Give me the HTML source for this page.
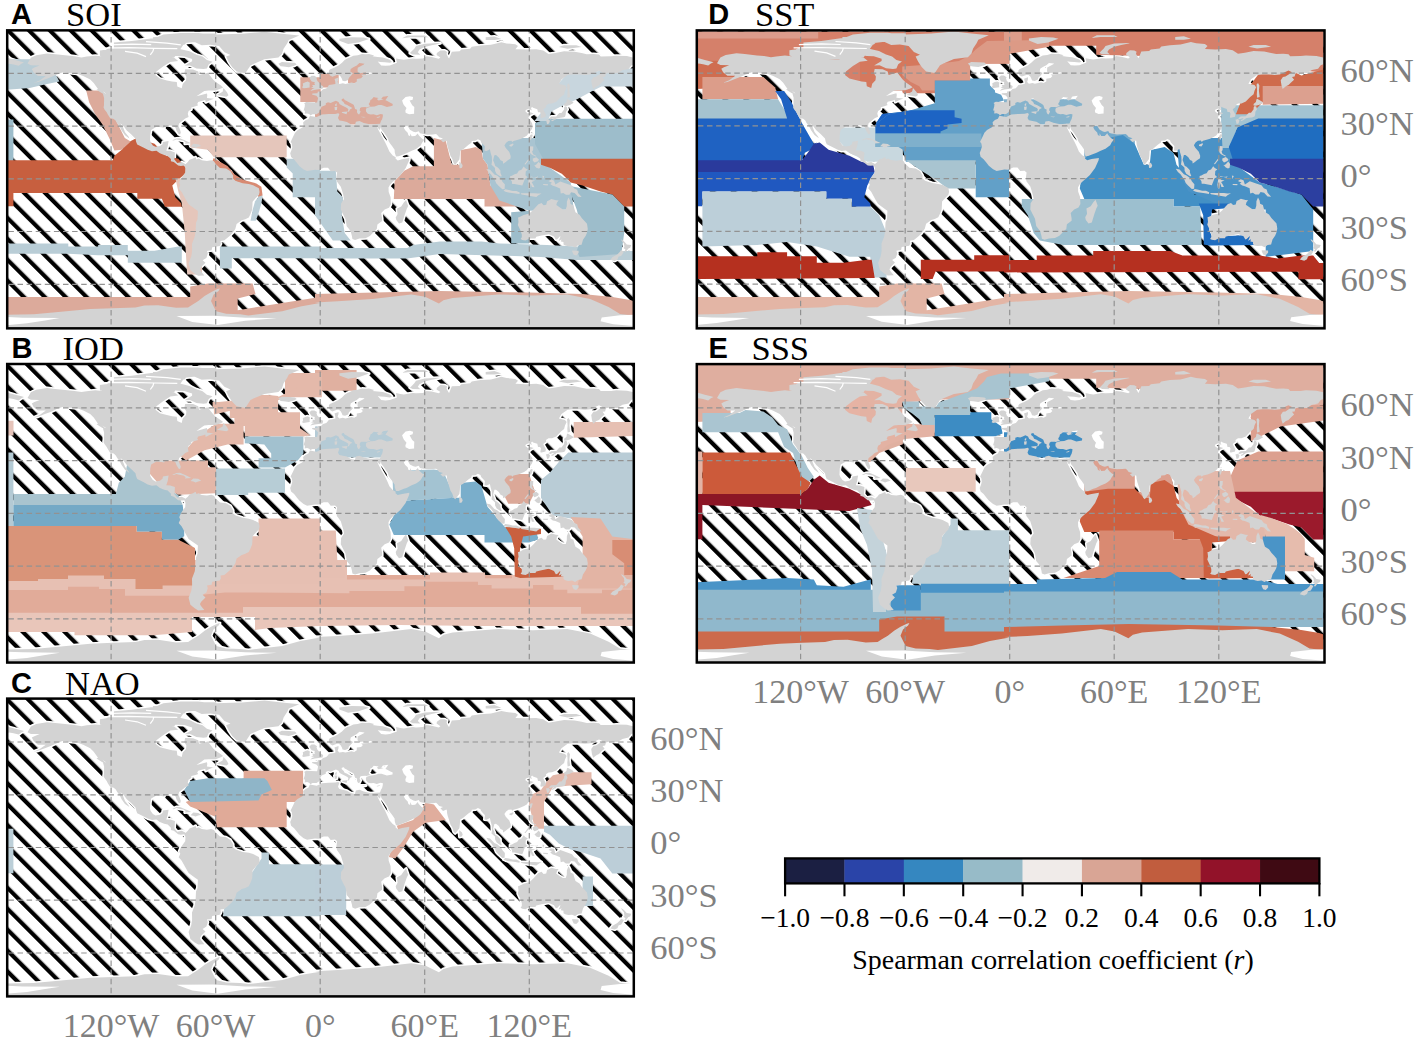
<!DOCTYPE html><html><head><meta charset="utf-8"><style>
html,body{margin:0;padding:0;background:#fff;width:1417px;height:1043px;overflow:hidden}
svg{display:block}
.lab{font-family:"Liberation Serif",serif;fill:#808080}
.ttl{font-family:"Liberation Serif",serif;fill:#000}
.pl{font-family:"Liberation Sans",sans-serif;font-weight:bold;fill:#000}
</style></head><body>
<svg width="1417" height="1043" viewBox="0 0 1417 1043">
<defs>
<pattern id="hA" patternUnits="userSpaceOnUse" width="14.778" height="14.778" patternTransform="translate(0.50 0) rotate(-45)"><rect width="14.778" height="14.778" fill="#fff"/><rect x="0" width="4.2" height="14.778" fill="#000"/></pattern>
<pattern id="hB" patternUnits="userSpaceOnUse" width="14.778" height="14.778" patternTransform="translate(-0.80 0) rotate(-45)"><rect width="14.778" height="14.778" fill="#fff"/><rect x="0" width="4.2" height="14.778" fill="#000"/></pattern>
<pattern id="hC" patternUnits="userSpaceOnUse" width="14.778" height="14.778" patternTransform="translate(-0.70 0) rotate(-45)"><rect width="14.778" height="14.778" fill="#fff"/><rect x="0" width="4.2" height="14.778" fill="#000"/></pattern>
<pattern id="hD" patternUnits="userSpaceOnUse" width="14.778" height="14.778" patternTransform="translate(0.80 0) rotate(-45)"><rect width="14.778" height="14.778" fill="#fff"/><rect x="0" width="4.2" height="14.778" fill="#000"/></pattern>
<pattern id="hE" patternUnits="userSpaceOnUse" width="14.778" height="14.778" patternTransform="translate(-0.25 0) rotate(-45)"><rect width="14.778" height="14.778" fill="#fff"/><rect x="0" width="4.2" height="14.778" fill="#000"/></pattern>
<path id="land" d="M-289.3 -113.6 L-280.5 -113.4 L-285.8 -111.3 L-288.4 -109.9 L-286.6 -106.4 L-282.3 -102.8 L-274.4 -102.8 L-280.5 -98.4 L-286.6 -95.8 L-282.3 -96.7 L-275.3 -99.3 L-268.3 -102.0 L-264.0 -104.1 L-257.9 -106.4 L-250.9 -105.8 L-243.1 -105.1 L-237.0 -102.8 L-230.0 -99.3 L-226.5 -95.8 L-222.2 -89.7 L-217.8 -87.9 L-214.3 -85.3 L-217.3 -85.1 L-216.1 -80.9 L-216.2 -73.8 L-216.6 -71.2 L-215.7 -69.4 L-213.5 -66.5 L-212.4 -64.3 L-210.1 -60.7 L-206.5 -59.8 L-204.4 -58.0 L-203.3 -55.9 L-200.4 -51.9 L-198.6 -48.3 L-195.2 -43.6 L-190.8 -40.4 L-191.7 -42.2 L-195.2 -46.6 L-196.9 -51.0 L-199.9 -55.6 L-196.6 -52.7 L-193.4 -48.3 L-189.1 -44.5 L-184.7 -40.1 L-184.0 -36.9 L-183.0 -34.3 L-176.9 -31.3 L-172.5 -29.0 L-168.2 -27.6 L-163.8 -28.1 L-160.3 -25.5 L-156.0 -23.7 L-152.5 -22.9 L-149.3 -19.7 L-149.3 -17.6 L-146.4 -16.7 L-142.0 -13.2 L-139.4 -12.8 L-135.9 -13.2 L-134.7 -14.6 L-135.0 -14.9 L-138.5 -16.7 L-142.9 -15.8 L-145.8 -19.3 L-145.5 -22.0 L-145.3 -26.4 L-149.9 -28.0 L-153.9 -28.1 L-152.5 -32.5 L-151.6 -37.8 L-157.3 -36.9 L-157.7 -34.6 L-160.3 -32.7 L-164.7 -32.0 L-167.3 -33.4 L-169.5 -36.6 L-170.2 -38.7 L-169.9 -44.8 L-169.0 -48.9 L-163.8 -52.0 L-158.6 -51.5 L-156.0 -51.0 L-155.1 -53.3 L-149.9 -53.4 L-146.7 -52.7 L-144.6 -51.0 L-143.8 -48.3 L-141.5 -44.7 L-140.1 -44.3 L-139.4 -46.6 L-140.3 -49.2 L-141.7 -52.7 L-141.1 -55.4 L-137.7 -58.0 L-135.0 -60.3 L-131.6 -61.9 L-132.4 -65.0 L-131.6 -67.7 L-128.9 -69.4 L-128.9 -71.4 L-124.6 -72.6 L-122.0 -73.5 L-123.0 -74.9 L-122.0 -76.8 L-116.7 -78.2 L-115.0 -78.8 L-114.5 -76.5 L-110.8 -78.4 L-104.5 -80.9 L-106.3 -80.0 L-113.3 -80.9 L-112.9 -83.5 L-113.3 -85.3 L-123.7 -82.5 L-118.5 -86.1 L-115.9 -87.9 L-111.5 -88.3 L-104.5 -88.3 L-99.3 -90.2 L-97.1 -91.4 L-99.3 -93.2 L-104.5 -96.7 L-107.2 -99.3 L-112.4 -106.0 L-113.3 -105.8 L-121.1 -103.7 L-122.0 -107.2 L-127.2 -109.3 L-135.0 -109.5 L-135.9 -105.5 L-133.8 -102.0 L-134.2 -98.4 L-137.5 -94.9 L-138.5 -90.5 L-142.9 -92.3 L-143.4 -96.7 L-148.1 -97.2 L-153.3 -98.4 L-160.3 -100.2 L-164.7 -103.7 L-163.8 -107.2 L-156.8 -112.5 L-149.9 -116.9 L-142.0 -117.8 L-148.1 -122.7 L-156.8 -121.3 L-164.7 -126.6 L-165.5 -120.1 L-170.8 -119.2 L-181.2 -119.5 L-191.7 -119.5 L-203.9 -121.0 L-216.1 -122.2 L-224.8 -123.1 L-233.5 -122.2 L-238.7 -121.3 L-245.7 -122.5 L-252.7 -123.2 L-264.9 -124.5 L-273.2 -125.3 L-284.0 -123.6 L-289.3 -121.1 L-292.7 -115.3Z M-118.5 -133.6 L-109.8 -134.1 L-101.1 -132.7 L-95.8 -126.6 L-89.7 -123.9 L-94.1 -122.2 L-91.5 -116.9 L-88.0 -111.6 L-83.6 -107.2 L-74.9 -105.5 L-69.7 -113.4 L-66.2 -115.1 L-55.8 -119.5 L-41.8 -121.3 L-38.3 -124.8 L-36.6 -130.1 L-33.1 -135.4 L-31.4 -138.9 L-20.9 -143.3 L-38.3 -145.0 L-55.8 -147.0 L-78.4 -145.0 L-104.5 -144.2 L-115.0 -141.5 L-127.2 -137.5Z M-149.9 -129.2 L-156.0 -124.8 L-149.9 -123.6 L-142.9 -122.7 L-135.9 -122.4 L-128.1 -119.9 L-128.1 -117.6 L-135.6 -113.2 L-130.2 -113.4 L-123.7 -110.4 L-116.7 -109.7 L-113.3 -110.2 L-111.5 -114.3 L-107.7 -117.1 L-113.3 -118.7 L-117.6 -122.2 L-123.7 -124.1 L-130.7 -127.5 L-139.4 -129.6Z M-205.6 -122.2 L-196.9 -120.4 L-184.7 -121.7 L-176.0 -123.9 L-183.0 -128.3 L-196.9 -128.7 L-206.5 -125.7Z M-217.8 -125.7 L-209.1 -125.7 L-202.1 -129.2 L-210.8 -131.0 L-217.8 -126.9Z M-156.8 -135.4 L-135.9 -134.0 L-130.7 -138.9 L-118.5 -141.5 L-108.0 -144.2 L-122.0 -145.9 L-139.4 -145.9 L-156.8 -144.2 L-165.5 -140.6Z M-160.3 -131.0 L-139.4 -131.0 L-139.4 -134.5 L-156.8 -134.5 L-167.3 -132.7Z M-176.0 -126.6 L-169.0 -123.9 L-160.3 -126.6 L-162.1 -130.1 L-169.0 -129.7 L-176.0 -130.1Z M-200.4 -131.0 L-184.7 -131.8 L-170.8 -132.7 L-174.2 -133.6 L-181.2 -134.0 L-188.2 -134.5 L-203.9 -133.6Z M-167.3 -137.1 L-156.8 -138.9 L-149.9 -142.9 L-167.3 -141.5Z M-39.6 -112.5 L-36.6 -112.2 L-31.4 -111.5 L-26.1 -113.0 L-23.5 -114.3 L-25.3 -116.0 L-31.4 -116.4 L-38.3 -116.7 L-41.8 -115.1Z M-135.9 -13.2 L-135.7 -12.8 L-134.7 -10.5 L-135.0 -6.2 L-137.7 -2.6 L-139.4 0.0 L-141.0 3.9 L-139.9 6.2 L-141.5 9.7 L-138.5 13.2 L-134.2 21.1 L-131.6 25.5 L-125.5 29.9 L-122.3 32.2 L-122.7 40.4 L-124.2 44.0 L-124.6 52.7 L-125.5 58.0 L-128.2 65.0 L-128.1 72.1 L-128.9 77.4 L-131.6 84.4 L-129.8 91.4 L-125.5 94.9 L-122.0 97.0 L-115.9 96.7 L-119.4 92.3 L-120.2 90.7 L-119.0 88.3 L-114.7 84.0 L-117.6 81.4 L-113.8 79.1 L-112.4 74.7 L-113.3 72.1 L-108.6 71.4 L-108.0 68.4 L-100.5 67.2 L-99.3 65.0 L-99.7 62.1 L-95.8 61.5 L-93.0 59.2 L-90.6 57.1 L-88.0 54.5 L-84.9 50.1 L-83.6 45.2 L-78.4 41.5 L-74.9 40.4 L-71.4 38.7 L-69.7 35.2 L-68.0 30.8 L-67.6 22.9 L-64.5 19.3 L-61.3 16.2 L-60.6 13.2 L-61.3 9.5 L-67.1 6.5 L-71.4 5.3 L-77.5 4.4 L-84.5 2.1 L-87.1 0.0 L-87.1 -3.2 L-89.7 -7.6 L-94.1 -10.2 L-100.2 -10.9 L-104.5 -14.9 L-106.3 -17.6 L-108.9 -18.6 L-113.3 -17.8 L-118.5 -18.5 L-121.6 -20.2 L-123.7 -19.3 L-124.6 -21.6 L-127.2 -20.2 L-130.7 -19.0 L-132.4 -16.7 L-134.7 -14.6Z M-11.8 -59.8 L-14.8 -58.5 L-17.1 -56.3 L-16.7 -53.6 L-17.4 -51.5 L-22.7 -48.5 L-25.3 -45.9 L-27.0 -42.2 L-29.6 -36.9 L-28.4 -35.2 L-27.9 -31.6 L-28.8 -28.5 L-30.0 -25.5 L-29.1 -21.8 L-26.1 -19.3 L-23.0 -15.5 L-20.9 -12.8 L-16.6 -9.3 L-13.1 -7.7 L-5.2 -9.0 L-1.7 -8.8 L3.5 -11.1 L7.8 -11.1 L10.5 -7.6 L14.8 -7.9 L16.9 -6.2 L16.2 -0.9 L16.7 2.6 L20.6 7.9 L21.4 10.5 L23.0 15.8 L23.9 20.2 L20.9 24.6 L20.6 30.8 L22.7 35.2 L25.3 40.1 L26.5 47.5 L28.8 50.3 L30.5 52.7 L31.7 57.1 L32.2 60.1 L34.9 61.2 L39.2 59.8 L45.3 59.4 L49.7 57.1 L54.0 52.7 L56.6 50.3 L57.2 45.7 L61.9 42.2 L61.9 39.6 L61.0 34.3 L64.5 30.8 L68.8 29.0 L70.7 25.5 L70.4 18.5 L68.5 13.2 L68.3 8.8 L69.7 6.2 L72.3 3.3 L74.9 1.1 L80.2 -3.5 L85.4 -10.5 L88.9 -18.3 L89.2 -20.7 L81.9 -19.5 L77.5 -18.3 L75.3 -20.2 L75.5 -21.6 L72.5 -23.4 L69.2 -27.2 L67.3 -31.6 L64.8 -36.9 L61.9 -42.0 L58.5 -48.3 L56.6 -52.6 L58.4 -54.7 L55.8 -54.8 L50.5 -54.3 L43.6 -55.9 L39.2 -57.7 L35.7 -57.0 L34.7 -53.6 L30.5 -54.5 L26.7 -56.8 L22.7 -57.7 L19.2 -58.4 L17.8 -60.7 L19.2 -64.7 L17.9 -65.6 L15.0 -64.9 L8.7 -64.7 L1.7 -64.2 L-3.5 -61.7 L-10.3 -62.9Z M83.6 23.7 L81.0 27.6 L76.7 29.9 L77.4 35.2 L75.5 38.7 L76.1 41.3 L78.8 44.8 L82.1 43.8 L84.5 36.0 L86.6 29.9 L88.0 27.2 L85.9 21.1Z M-7.7 -64.5 L-3.7 -64.5 L-1.4 -66.1 L-0.5 -67.7 L0.0 -69.4 L1.4 -72.1 L5.6 -73.7 L5.6 -75.6 L7.8 -76.5 L10.5 -75.8 L13.1 -77.0 L15.7 -78.1 L18.3 -76.8 L19.5 -74.5 L22.3 -73.0 L24.9 -71.7 L27.2 -70.5 L28.2 -69.4 L27.4 -66.8 L28.8 -67.3 L29.8 -69.4 L32.2 -70.7 L28.1 -73.0 L27.0 -73.7 L24.4 -74.7 L23.5 -76.6 L21.4 -78.4 L21.6 -79.8 L23.7 -80.3 L24.4 -78.9 L26.5 -77.9 L28.8 -76.5 L32.2 -74.7 L33.6 -73.7 L34.9 -69.8 L36.9 -69.1 L36.8 -66.6 L37.8 -64.7 L38.9 -64.2 L39.7 -65.6 L40.4 -67.2 L39.4 -68.4 L39.9 -70.7 L41.3 -71.6 L45.3 -71.7 L46.0 -71.4 L50.4 -72.6 L48.8 -73.8 L48.6 -75.1 L49.8 -76.8 L50.2 -78.9 L51.6 -79.6 L53.5 -81.7 L55.2 -81.4 L58.5 -80.9 L56.6 -79.8 L58.4 -78.2 L61.9 -79.1 L63.6 -79.6 L61.0 -79.8 L62.7 -82.1 L68.1 -82.8 L65.2 -78.6 L66.6 -78.1 L69.7 -76.3 L72.5 -74.9 L72.3 -73.0 L66.7 -71.9 L61.3 -73.8 L58.4 -73.8 L54.5 -72.4 L50.5 -72.1 L46.4 -70.8 L45.7 -69.4 L45.8 -67.2 L47.6 -65.0 L50.5 -64.3 L53.3 -64.5 L56.6 -63.5 L60.5 -64.7 L62.7 -64.3 L62.6 -62.4 L61.9 -59.6 L60.8 -57.7 L59.8 -55.0 L56.3 -54.8 L56.8 -52.6 L58.5 -49.8 L59.8 -48.9 L60.6 -51.9 L61.2 -49.4 L63.8 -46.1 L65.2 -44.0 L67.8 -40.1 L68.3 -37.8 L69.7 -35.5 L72.0 -32.5 L74.4 -29.0 L74.6 -26.0 L75.8 -22.3 L78.4 -22.5 L83.6 -24.6 L86.3 -25.5 L91.0 -27.8 L95.8 -29.9 L98.1 -31.5 L100.5 -33.4 L101.9 -36.0 L104.2 -39.2 L102.5 -39.6 L100.2 -41.7 L98.3 -43.8 L97.6 -45.4 L95.0 -42.7 L91.5 -42.5 L89.9 -45.4 L89.9 -42.5 L88.2 -43.6 L87.5 -46.1 L85.0 -48.5 L83.6 -51.0 L84.5 -52.7 L87.6 -52.6 L89.7 -49.0 L93.2 -47.1 L95.3 -46.6 L98.5 -47.6 L99.8 -45.5 L101.9 -45.0 L107.2 -44.1 L112.4 -44.3 L115.9 -44.7 L117.3 -43.6 L119.0 -41.5 L122.8 -40.4 L120.2 -39.2 L122.8 -36.6 L126.3 -38.1 L126.7 -36.9 L126.9 -34.3 L127.6 -31.3 L128.9 -27.4 L130.3 -22.7 L132.1 -19.9 L133.5 -15.6 L135.0 -14.2 L136.3 -15.6 L138.2 -18.1 L139.2 -19.3 L139.7 -23.7 L139.9 -27.8 L143.4 -29.9 L148.1 -33.9 L151.2 -36.0 L151.6 -37.8 L155.1 -38.1 L157.7 -39.6 L160.3 -38.3 L161.0 -36.4 L162.9 -34.3 L164.7 -32.5 L164.3 -28.1 L166.4 -27.8 L169.7 -29.5 L170.4 -26.0 L171.6 -22.0 L171.8 -17.6 L171.3 -14.1 L173.6 -12.1 L174.8 -10.9 L174.9 -7.9 L176.5 -4.9 L180.3 -2.3 L181.6 -2.5 L180.2 -6.0 L180.2 -8.4 L178.1 -10.7 L176.5 -12.0 L175.1 -12.7 L173.9 -16.2 L172.9 -18.5 L174.2 -23.6 L175.8 -23.7 L178.6 -21.4 L180.3 -18.6 L182.6 -17.6 L183.0 -15.1 L185.2 -16.5 L187.3 -18.3 L190.3 -20.4 L190.5 -22.9 L189.1 -26.9 L185.6 -30.8 L184.2 -33.4 L185.9 -36.0 L188.2 -37.8 L191.2 -38.0 L192.0 -36.7 L193.4 -37.8 L197.8 -39.0 L200.4 -39.9 L203.9 -41.5 L206.5 -43.1 L208.2 -45.4 L210.0 -47.5 L211.7 -49.9 L212.6 -52.4 L210.8 -53.3 L212.4 -54.3 L211.4 -56.3 L209.8 -58.7 L208.1 -61.5 L210.7 -64.0 L213.5 -65.4 L210.3 -66.5 L207.7 -65.4 L207.0 -65.9 L205.1 -67.5 L205.6 -68.9 L208.4 -70.1 L211.7 -68.4 L210.8 -70.7 L211.9 -71.9 L212.9 -71.0 L217.1 -69.6 L217.8 -66.5 L219.9 -66.5 L220.8 -64.9 L220.1 -61.2 L221.3 -60.8 L225.3 -61.9 L225.7 -64.2 L224.1 -67.2 L223.0 -69.4 L226.0 -71.7 L225.8 -73.3 L228.3 -75.1 L231.8 -75.2 L236.1 -77.0 L240.5 -81.7 L243.9 -84.4 L244.8 -87.9 L246.4 -91.4 L244.8 -93.5 L238.7 -94.9 L241.3 -99.3 L247.4 -103.7 L252.7 -104.2 L258.8 -104.2 L264.9 -103.7 L270.1 -104.2 L278.8 -108.1 L282.3 -106.4 L279.7 -104.6 L275.8 -102.0 L273.2 -101.6 L271.0 -98.4 L271.8 -93.2 L273.0 -89.7 L276.2 -92.3 L278.8 -93.5 L281.9 -96.7 L284.4 -98.8 L282.3 -101.6 L284.9 -102.0 L285.8 -105.1 L289.3 -106.0 L297.1 -105.5 L302.3 -108.6 L308.4 -109.9 L311.0 -113.4 L313.6 -114.3 L313.6 -121.1 L306.7 -122.7 L296.2 -123.1 L291.0 -122.5 L280.5 -122.4 L278.8 -124.3 L273.6 -124.8 L266.6 -124.6 L261.4 -125.7 L254.4 -127.1 L243.9 -127.5 L235.2 -125.9 L228.3 -124.8 L223.0 -128.3 L216.1 -129.6 L205.6 -129.2 L195.2 -129.6 L197.8 -132.7 L195.2 -134.5 L186.4 -135.4 L181.2 -136.6 L170.8 -134.0 L160.3 -133.3 L151.6 -132.0 L149.9 -130.1 L141.1 -129.2 L139.4 -127.5 L131.6 -127.1 L128.9 -120.4 L128.1 -121.3 L126.3 -124.8 L126.9 -126.9 L124.6 -128.2 L120.2 -128.3 L116.7 -125.7 L116.4 -123.9 L120.2 -121.3 L118.5 -120.1 L111.5 -121.8 L106.3 -122.5 L102.8 -120.4 L95.8 -120.1 L92.4 -120.4 L83.6 -119.0 L80.2 -119.5 L75.8 -120.4 L76.7 -116.0 L69.7 -113.4 L65.3 -113.0 L61.0 -113.4 L57.5 -117.3 L60.1 -116.9 L64.5 -116.6 L69.7 -116.0 L71.8 -116.9 L69.7 -119.0 L62.7 -121.3 L57.5 -121.8 L52.3 -122.5 L54.0 -123.4 L48.8 -124.8 L45.3 -124.6 L41.8 -124.8 L37.5 -123.6 L33.1 -123.1 L29.6 -121.3 L27.0 -120.4 L24.4 -118.7 L21.8 -116.0 L18.3 -113.4 L13.9 -111.1 L9.6 -109.3 L8.7 -108.1 L8.7 -105.5 L9.8 -103.4 L12.2 -102.0 L16.6 -103.7 L18.8 -103.7 L20.6 -102.0 L21.8 -99.7 L22.3 -98.1 L24.9 -97.6 L27.9 -98.8 L28.8 -101.1 L31.4 -103.7 L32.8 -105.5 L30.0 -107.2 L30.5 -109.9 L33.1 -111.6 L36.6 -113.4 L39.2 -115.7 L44.3 -115.1 L43.6 -114.3 L37.5 -111.1 L37.3 -107.2 L39.2 -105.5 L45.3 -106.2 L50.5 -106.4 L52.3 -105.5 L48.8 -104.6 L40.9 -104.1 L42.7 -102.5 L40.9 -100.6 L36.6 -99.9 L36.6 -97.2 L34.0 -95.6 L31.4 -96.3 L25.3 -94.9 L22.7 -95.6 L19.2 -94.9 L17.4 -96.7 L18.3 -99.3 L18.3 -101.4 L14.3 -99.9 L15.0 -97.6 L15.2 -94.8 L12.2 -94.2 L8.7 -93.7 L7.8 -92.3 L6.1 -90.4 L2.8 -89.5 L0.3 -87.0 L-2.3 -87.4 L-2.8 -85.6 L-7.8 -85.4 L-8.2 -84.4 L-3.8 -83.0 L-2.1 -80.9 L-3.1 -76.3 L-9.6 -76.5 L-13.9 -76.8 L-16.2 -75.6 L-15.3 -74.7 L-15.5 -72.1 L-16.6 -68.2 L-15.3 -68.0 L-15.5 -65.0 L-13.1 -65.4 L-11.0 -64.7 L-9.8 -63.3Z M-313.6 -114.3 L-311.0 -115.1 L-306.7 -114.3 L-301.5 -113.0 L-298.8 -115.1 L-296.2 -116.4 L-299.7 -117.4 L-304.9 -118.7 L-313.6 -121.1Z M89.7 -125.7 L92.4 -124.3 L100.2 -124.1 L97.6 -126.6 L99.3 -129.2 L104.5 -131.8 L111.5 -133.6 L120.2 -135.4 L118.5 -135.7 L104.5 -135.0 L95.8 -132.7 L94.1 -130.1 L91.5 -127.5Z M165.5 -138.9 L174.2 -138.9 L181.2 -139.8 L174.2 -142.4 L165.5 -141.5Z M81.9 -140.6 L90.6 -141.5 L108.0 -141.5 L104.5 -143.3 L87.1 -143.3Z M19.2 -138.0 L27.9 -134.7 L38.3 -136.2 L48.8 -139.8 L43.6 -141.2 L31.4 -141.5 L19.2 -140.1Z M238.7 -131.8 L247.4 -130.1 L261.4 -131.8 L256.1 -133.6 L243.9 -133.6Z M247.4 -80.9 L250.0 -81.7 L249.2 -87.9 L249.7 -93.2 L248.3 -95.5 L246.9 -94.1 L247.4 -87.9 L247.1 -84.4Z M243.9 -73.0 L246.2 -72.8 L249.7 -73.8 L253.5 -76.1 L251.8 -77.4 L247.4 -79.8 L246.7 -79.1 L246.2 -76.5 L243.9 -74.7Z M228.3 -60.3 L230.0 -59.4 L232.6 -60.3 L235.2 -59.1 L236.1 -60.3 L238.7 -60.8 L242.2 -61.2 L243.6 -61.5 L244.8 -62.1 L245.5 -64.2 L245.7 -66.8 L247.3 -69.4 L246.6 -72.1 L244.8 -72.6 L243.9 -71.2 L243.9 -69.4 L241.3 -65.9 L239.2 -65.9 L237.9 -64.5 L236.1 -62.4 L230.9 -62.2 L228.1 -59.8Z M226.2 -57.5 L226.9 -54.5 L228.8 -55.2 L229.8 -58.0 L228.3 -59.6 L225.7 -58.9Z M231.8 -57.5 L234.0 -58.5 L234.7 -60.1 L230.9 -58.4Z M209.4 -42.5 L209.3 -40.4 L210.5 -38.5 L211.5 -40.4 L212.6 -44.0 L210.8 -44.3Z M189.4 -32.5 L191.7 -32.2 L193.4 -34.5 L192.7 -35.3 L189.2 -33.8Z M209.1 -28.1 L210.1 -25.5 L211.7 -24.1 L215.7 -22.2 L216.1 -22.9 L212.9 -24.6 L211.9 -27.2 L212.9 -28.5 L213.1 -32.3 L210.0 -32.5Z M214.3 -13.2 L216.1 -11.1 L218.3 -10.2 L219.9 -10.9 L220.4 -14.6 L218.5 -17.1 L216.1 -14.4 L212.6 -12.3Z M212.6 -18.1 L214.3 -16.2 L217.8 -17.6 L218.7 -19.3 L216.1 -21.6 L212.6 -20.2Z M205.3 -14.4 L208.6 -18.5 L208.2 -19.9 L204.2 -14.6Z M189.9 0.0 L191.7 2.6 L192.0 5.1 L194.3 5.1 L196.9 5.6 L199.5 6.2 L202.1 6.7 L203.0 4.4 L203.9 2.1 L204.7 0.0 L207.4 -1.6 L205.3 -3.5 L205.6 -7.6 L207.7 -9.1 L205.1 -10.5 L203.5 -12.3 L201.3 -9.1 L198.6 -8.1 L196.9 -5.4 L194.3 -4.6 L191.7 -3.0 L189.9 -2.6Z M168.2 -6.7 L170.8 -4.4 L172.5 -1.8 L174.6 0.9 L176.0 4.4 L178.3 7.0 L182.1 10.4 L184.4 10.2 L184.7 5.6 L182.1 2.6 L180.9 0.0 L176.9 -3.2 L174.2 -4.4 L169.9 -9.1 L166.1 -9.8Z M185.4 13.0 L188.2 13.7 L191.7 14.1 L195.2 14.6 L199.3 15.3 L199.5 13.7 L196.2 12.1 L192.5 12.1 L188.7 11.1 L185.1 10.5 L183.3 12.0Z M201.3 15.6 L207.4 16.7 L216.1 18.1 L217.8 16.7 L221.3 14.6 L217.8 14.8 L214.3 14.4 L207.4 14.4 L200.4 14.4Z M208.2 9.7 L209.8 9.8 L210.5 4.7 L211.7 8.3 L214.3 8.4 L212.9 5.6 L211.4 3.3 L214.9 1.6 L211.7 1.4 L209.4 -0.9 L210.8 -2.3 L216.9 -0.9 L218.0 -2.8 L216.6 -1.8 L210.5 -1.6 L209.1 -1.2 L208.4 1.1 L207.7 6.2Z M223.0 6.3 L227.4 6.7 L227.9 5.4 L223.0 5.3Z M222.7 0.0 L224.1 1.1 L223.0 0.0 L224.1 -2.6 L222.2 -3.0Z M229.1 2.8 L231.8 4.0 L230.0 5.1 L232.6 7.0 L235.2 7.7 L239.9 9.7 L240.5 14.8 L243.1 14.1 L245.7 16.0 L249.2 16.0 L250.9 13.5 L254.4 14.1 L257.9 17.9 L261.4 18.1 L257.9 14.1 L257.0 10.9 L254.1 9.7 L251.8 6.7 L245.7 4.6 L240.1 2.6 L235.2 5.8 L233.8 1.6 L230.9 0.7 L228.3 2.5Z M198.3 43.1 L197.6 46.2 L199.7 50.5 L200.4 51.9 L201.6 55.6 L201.6 58.5 L200.4 60.3 L202.1 61.2 L205.4 61.7 L209.1 59.6 L215.2 59.6 L216.1 58.0 L221.3 56.8 L228.6 55.4 L233.8 57.7 L235.6 60.8 L237.0 60.5 L240.1 57.3 L239.9 58.9 L238.4 62.1 L239.9 61.5 L241.3 60.7 L240.6 62.8 L243.3 63.3 L243.3 65.7 L245.0 66.8 L248.0 67.5 L251.8 67.2 L254.9 68.6 L257.9 66.5 L261.4 65.9 L262.8 61.0 L265.4 57.1 L266.6 54.5 L267.6 50.1 L266.8 45.0 L264.3 42.2 L261.7 39.4 L259.3 35.9 L255.3 33.4 L254.4 30.8 L253.2 26.4 L250.4 25.1 L249.9 21.8 L248.3 18.8 L246.7 22.7 L246.6 27.2 L245.5 30.6 L242.7 30.6 L239.4 28.5 L236.1 26.2 L236.8 23.7 L238.4 21.6 L235.8 21.4 L231.1 20.2 L229.1 21.4 L226.9 22.5 L226.0 26.0 L223.4 26.4 L221.3 24.3 L218.2 25.5 L215.4 28.5 L212.9 31.3 L209.1 34.8 L203.5 36.2 L198.8 38.5 L197.8 38.7Z M252.1 73.0 L253.5 75.9 L256.1 76.6 L258.4 74.2 L258.4 71.9 L252.0 71.6Z M301.5 62.1 L303.7 64.7 L304.2 68.2 L303.2 69.3 L305.3 70.7 L304.2 72.6 L305.5 73.1 L308.2 69.6 L310.0 68.9 L311.0 66.3 L306.5 65.6 L305.8 64.7 L303.7 62.4 L300.9 60.5Z M299.7 73.0 L297.1 75.6 L292.4 78.2 L290.1 80.9 L294.5 82.1 L297.3 80.7 L298.3 77.9 L301.1 77.0 L302.0 75.6 L303.7 72.6 L300.8 71.2Z M139.1 -13.2 L139.4 -10.5 L141.5 -10.9 L142.5 -12.8 L141.8 -14.9 L139.1 -17.2Z M-9.9 -87.9 L-5.2 -89.0 L2.4 -90.0 L3.0 -92.6 L0.5 -93.9 L-0.5 -95.6 L-2.8 -97.7 L-3.7 -100.2 L-3.1 -101.3 L-5.8 -103.0 L-8.7 -103.0 L-10.8 -101.1 L-9.8 -99.0 L-8.5 -97.2 L-5.2 -96.5 L-5.9 -95.5 L-5.2 -93.7 L-8.0 -93.7 L-7.1 -92.1 L-9.2 -91.1 L-5.6 -90.4 L-7.8 -89.8Z M-10.5 -91.4 L-10.6 -94.1 L-10.3 -96.0 L-12.5 -97.2 L-14.8 -96.5 L-17.4 -95.3 L-17.1 -93.2 L-18.1 -91.2 L-16.6 -90.5 L-13.9 -90.9Z M-146.4 -38.3 L-143.8 -39.4 L-141.1 -38.7 L-136.8 -38.0 L-134.5 -36.2 L-135.4 -35.0 L-129.1 -35.5 L-131.9 -36.9 L-135.0 -38.3 L-140.3 -40.6 L-143.8 -40.4 L-148.1 -38.5Z M-126.9 -31.8 L-124.6 -30.9 L-122.0 -32.0 L-119.0 -32.7 L-122.0 -34.6 L-126.9 -35.0 L-129.6 -32.3Z M-97.2 -82.6 L-93.7 -82.1 L-91.7 -83.5 L-93.2 -86.5 L-96.7 -90.7 L-97.6 -87.0 L-103.3 -83.7Z M-223.7 -89.1 L-217.8 -85.3 L-214.9 -85.1 L-217.8 -87.9 L-222.2 -89.7Z M21.8 -66.1 L26.3 -64.5 L27.2 -67.3 L21.6 -66.8Z M14.6 -68.6 L16.7 -68.9 L17.1 -72.1 L14.3 -71.9Z M15.0 -72.8 L16.4 -72.8 L16.6 -75.6 L15.0 -74.5Z M41.1 -61.9 L43.6 -61.4 L45.8 -61.9 L40.9 -62.1Z M57.0 -61.0 L59.1 -61.4 L60.1 -62.6 L56.3 -61.5Z M-206.3 -130.4 L-220.3 -128.3 L-220.3 -123.1 L-209.6 -119.9 L-188.4 -118.8 L-167.3 -119.5 L-146.0 -121.3 L-140.8 -128.3 L-135.6 -135.7 L-124.9 -136.8 L-115.0 -139.8 L-103.9 -142.4 L-103.9 -145.3 L-135.6 -145.3 L-167.3 -140.6 L-188.4 -137.7 L-206.3 -136.2Z M-330.0 200.0 L330.0 200.0 L319.8 137.4 L299.8 135.2 L288.4 128.3 L270.0 120.2 L247.1 115.7 L212.7 116.8 L178.3 115.7 L132.4 119.1 L123.2 121.4 L118.7 124.8 L104.9 118.0 L91.1 115.7 L52.1 120.2 L17.7 122.5 L-5.2 123.7 L-0.2 124.2 L-19.8 127.6 L-37.9 132.5 L-71.8 136.6 L-80.0 135.5 L-94.0 135.0 L-104.1 132.5 L-106.7 127.4 L-109.2 122.3 L-106.7 116.0 L-101.6 112.2 L-100.3 109.6 L-102.9 110.3 L-109.2 113.4 L-115.6 117.3 L-121.9 122.3 L-128.3 126.2 L-132.1 128.7 L-144.0 129.0 L-162.1 126.4 L-175.7 126.7 L-184.7 128.7 L-207.3 129.4 L-229.9 130.3 L-259.2 133.0 L-286.3 135.5 L-320.2 136.1Z"/>
<path id="casp" d="M81.9 -78.2 L85.4 -81.9 L89.7 -82.6 L92.9 -81.7 L92.4 -79.1 L89.4 -78.2 L92.0 -73.5 L94.1 -71.7 L93.9 -66.8 L93.9 -65.0 L88.9 -64.5 L85.4 -66.1 L85.2 -68.2 L86.3 -70.7 L83.6 -73.8 L82.8 -75.6Z M-320.2 138.0 L-297.6 138.9 L-260.4 139.3 L-275.0 141.6 L-293.1 144.5 L-311.2 146.1 L-320.2 146.5Z M319.8 135.6 L299.8 136.5 L281.5 138.6 L280.4 142.5 L293.0 145.5 L319.8 147.8Z M-143.7 137.3 L-106.7 137.0 L-74.9 138.9 L-43.2 139.4 L-74.9 142.0 L-102.5 146.3 L-127.9 143.1Z"/>
<path id="chan" d="M-216.1 -130.8 L-191.7 -131.1 L-165.5 -130.4 L-142.9 -130.1 M-174.2 -137.1 L-153.3 -135.7 L-139.4 -134.0 M-210.8 -134.0 L-188.2 -134.7 L-169.0 -134.1 M-166.4 -130.4 L-167.3 -127.5 L-169.9 -123.9 M-195.2 -127.5 L-183.0 -125.7 L-174.2 -122.2"/>
<clipPath id="clA"><rect x="-313.00" y="-148.45" width="626.60" height="298.00"/></clipPath>
<clipPath id="clB"><rect x="-313.00" y="-149.40" width="626.60" height="298.55"/></clipPath>
<clipPath id="clC"><rect x="-313.00" y="-148.90" width="626.60" height="297.80"/></clipPath>
<clipPath id="clD"><rect x="-312.90" y="-148.20" width="627.70" height="297.95"/></clipPath>
<clipPath id="clE"><rect x="-312.90" y="-149.30" width="627.70" height="298.40"/></clipPath>
</defs>
<g transform="translate(320.2 178.8)">
<g clip-path="url(#clA)">
<rect x="-313.00" y="-148.45" width="626.60" height="298.00" fill="url(#hA)"/>
<use href="#land" fill="none" stroke="#fff" stroke-width="3" stroke-linejoin="round"/>
<path d="M-313.7 -119.6 L-272.7 -119.6 L-260.8 -97.3 L-275.6 -94.4 L-290.5 -90.8 L-313.7 -89.0Z" fill="#b9cdd6"/>
<path d="M-313.7 -59.3 L-306.8 -59.3 L-306.8 -17.7 L-313.7 -17.7Z" fill="#9dbdcb"/>
<path d="M-313.7 -18.6 L-207.3 -18.6 L-205.8 -23.1 L-198.4 -29.0 L-192.4 -36.4 L-183.5 -40.9 L-165.7 -35.0 L-153.8 -23.1 L-141.9 -20.1 L-134.5 -11.2 L-134.5 -5.2 L-141.9 0.7 L-147.9 6.6 L-144.9 18.5 L-139.0 24.5 L-138.4 28.0 L-155.3 28.0 L-158.3 20.0 L-182.9 20.0 L-182.9 14.1 L-306.8 14.1 L-306.8 27.4 L-313.7 27.4Z" fill="#c75f3f"/>
<path d="M-234.0 -88.4 L-217.7 -88.4 L-213.2 -76.5 L-207.3 -64.7 L-201.4 -52.8 L-195.4 -40.9 L-189.5 -37.3 L-198.4 -29.0 L-205.8 -28.4 L-210.3 -39.4 L-217.7 -54.3 L-225.1 -64.7 L-231.1 -76.5Z" fill="#dcaa9b"/>
<path d="M-130.0 -43.3 L-33.5 -43.3 L-33.5 -21.6 L-106.3 -21.6 L-112.2 -29.0 L-130.0 -31.4Z" fill="#e5c6bb"/>
<path d="M-33.5 -20.1 L-0.2 -20.1 L-0.2 18.5 L-27.5 18.5 L-27.5 -5.2 L-33.5 -11.2Z" fill="#b9cdd6"/>
<path d="M-5.2 -8.1 L15.6 -8.1 L17.1 12.7 L23.0 18.7 L21.6 36.5 L24.5 54.3 L30.5 61.8 L12.6 61.8 L-5.2 36.5Z" fill="#b9cdd6"/>
<path d="M-144.9 -0.8 L-130.0 0.7 L-121.1 24.5 L-118.2 54.2 L-118.2 95.8 L-133.0 95.8 L-134.5 72.0 L-135.4 54.2 L-138.4 24.5 L-141.9 12.6Z" fill="#e5c6bb"/>
<path d="M-313.7 64.6 L-251.9 64.6 L-251.9 67.6 L-222.1 67.6 L-222.1 66.1 L-192.4 66.1 L-192.4 72.0 L-165.7 72.0 L-141.9 67.6 L-138.4 67.6 L-138.4 83.9 L-165.7 83.9 L-192.4 83.9 L-192.4 76.5 L-222.1 76.5 L-251.9 75.0 L-313.7 75.0Z" fill="#b9cdd6"/>
<path d="M-100.3 67.6 L-0.2 67.6 L-0.2 79.4 L-88.4 79.4 L-88.4 89.8 L-100.3 89.8Z" fill="#b9cdd6"/>
<path d="M-5.2 69.2 L87.0 69.2 L92.9 66.2 L119.7 62.7 L161.3 62.7 L179.2 64.7 L226.7 66.2 L256.5 67.7 L292.1 67.7 L295.1 72.2 L314.4 72.2 L314.4 81.1 L256.5 81.1 L220.8 78.1 L173.2 76.6 L119.7 75.2 L87.0 79.6 L-5.2 79.6Z" fill="#b9cdd6"/>
<path d="M-313.7 118.1 L-130.0 118.1 L-130.0 107.7 L-112.2 104.7 L-67.6 104.7 L-64.7 115.1 L-82.5 119.6 L-82.5 131.4 L-0.2 118.1 L-0.2 143.3 L-313.7 143.3Z" fill="#dcaa9b"/>
<path d="M-5.2 115.3 L54.3 113.8 L119.7 112.3 L208.9 113.8 L262.4 115.3 L292.1 118.3 L310.0 121.2 L314.4 122.7 L314.4 143.5 L-5.2 143.5Z" fill="#dcaa9b"/>
<path d="M-19.9 -101.5 L0.5 -101.5 L0.5 -104.9 L18.5 -104.9 L18.5 -91.4 L0.5 -91.4 L0.5 -76.7 L-19.9 -76.7Z" fill="#dcaa9b"/>
<path d="M27.8 -118.8 L45.8 -118.8 L45.8 -95.8 L27.8 -95.8Z" fill="#dcaa9b"/>
<path d="M-5.2 -85.4 L75.1 -85.4 L75.1 -54.2 L-5.2 -54.2Z" fill="#dcaa9b"/>
<path d="M73.6 20.1 L74.5 2.3 L84.0 -8.1 L92.9 -12.6 L113.7 -12.6 L113.7 -40.8 L125.6 -37.8 L131.6 -14.0 L140.5 -14.0 L140.5 -28.9 L149.4 -30.4 L155.4 -31.9 L161.3 -28.9 L162.8 -20.0 L167.3 -14.0 L170.2 6.8 L179.2 12.7 L182.1 20.1 L208.9 20.1 L208.9 27.6 L164.3 27.6 L164.3 20.1Z" fill="#dcaa9b"/>
<path d="M161.3 -40.8 L220.8 -40.8 L229.7 -11.1 L250.5 3.8 L253.5 30.6 L208.9 32.0 L179.2 21.6 L170.2 6.8 L167.3 -14.0 L162.8 -20.0Z" fill="#a9c4d1"/>
<path d="M214.8 -55.7 L226.7 -60.1 L314.4 -60.1 L314.4 -18.5 L223.8 -18.5 L214.8 -34.9Z" fill="#9dbdcb"/>
<path d="M220.8 -20.0 L314.4 -20.0 L314.4 27.6 L304.0 27.6 L292.1 15.7 L280.3 12.7 L262.4 6.8 L250.5 3.8 L241.6 -5.1 L229.7 -11.1 L220.8 -14.0Z" fill="#c75f3f"/>
<path d="M247.5 6.8 L292.1 15.7 L304.0 27.6 L304.0 54.3 L301.1 75.2 L259.4 78.1 L256.5 72.2 L262.4 54.3 L256.5 30.6Z" fill="#9dbdcb"/>
<path d="M191.0 33.5 L208.9 32.0 L208.9 64.7 L191.0 64.7Z" fill="#9dbdcb"/>
<path d="M214.2 -57.7 L221.8 -67.3 L228.6 -81.7 L238.1 -95.1 L247.7 -105.7 L266.9 -106.6 L286.1 -108.5 L312.9 -110.5 L312.9 -92.3 L281.3 -92.3 L271.7 -87.5 L257.3 -79.8 L249.6 -76.0 L240.1 -72.1 L231.4 -67.3 L227.6 -57.7Z" fill="#c8d6de"/>
<path d="M-106.5 -20.7 L-100.7 -17.3 L-92.7 -12.7 L-85.8 -4.6 L-76.6 1.1 L-63.9 4.6 L-58.8 8.0 L-57.6 16.7 L-61.6 18.4 L-65.1 11.5 L-76.6 5.7 L-85.8 2.3 L-93.8 -5.8 L-101.9 -11.5 L-108.2 -16.7Z" fill="#d88a72"/>
<path d="M-61.6 17.8 L-57.6 16.7 L-58.8 24.7 L-62.2 36.2 L-64.5 42.0 L-69.7 42.0 L-67.4 30.5 L-65.1 22.4Z" fill="#bccfd8"/>
<use href="#land" fill="#d3d3d3"/>
<use href="#casp" fill="#fff"/>
<use href="#chan" fill="none" stroke="#fff" stroke-width="1.2"/>
<path d="M-209.1 -160.0V160.0 M-104.5 -160.0V160.0 M0.0 -160.0V160.0 M104.5 -160.0V160.0 M209.1 -160.0V160.0 M-330.0 -105.5H330.0 M-330.0 -52.7H330.0 M-330.0 0.0H330.0 M-330.0 52.7H330.0 M-330.0 105.5H330.0" stroke="#929292" stroke-width="1.2" stroke-dasharray="5.5 3.6" fill="none"/>
</g>
<rect x="-313.00" y="-148.45" width="626.60" height="298.00" fill="none" stroke="#000" stroke-width="2.5"/>
</g>
<text class="pl" x="11.0" y="23.8" font-size="29">A</text>
<text class="ttl" x="66.1" y="26.4" font-size="34.5">SOI</text>
<g transform="translate(320.2 513.4)">
<g clip-path="url(#clB)">
<rect x="-313.00" y="-149.40" width="626.60" height="298.55" fill="url(#hB)"/>
<use href="#land" fill="none" stroke="#fff" stroke-width="3" stroke-linejoin="round"/>
<path d="M-313.7 -60.9 L-306.8 -60.9 L-306.8 26.4 L-313.7 26.4Z" fill="#b4cad4"/>
<path d="M-306.8 -19.3 L-204.3 -19.3 L-201.4 -30.6 L-195.4 -36.6 L-192.4 -52.9 L-180.6 -42.5 L-159.8 -27.6 L-141.9 -18.7 L-137.5 -8.3 L-306.8 -8.3Z" fill="#a9c4cf"/>
<path d="M-306.8 -8.3 L-137.5 -8.3 L-136.0 5.0 L-136.0 22.9 L-141.9 26.4 L-158.3 26.4 L-158.3 18.4 L-183.5 18.4 L-183.5 12.5 L-306.8 12.5Z" fill="#74a9c6"/>
<path d="M-313.2 61.6 L312.8 61.6 L312.8 112.6 L159.8 112.6 L79.8 111.6 L-0.2 112.6 L-50.2 114.6 L-65.2 116.6 L-65.2 103.6 L-128.2 103.6 L-128.2 118.6 L-166.6 121.9 L-245.7 121.9 L-245.7 118.6 L-313.2 118.6Z" fill="#e9c6ba"/>
<path d="M-313.2 61.6 L312.8 61.6 L312.8 100.4 L260.8 100.4 L260.8 93.6 L-77.2 93.6 L-77.2 99.3 L-313.2 99.3Z" fill="#e1ab99"/>
<path d="M-313.2 46.6 L26.8 46.6 L26.8 66.0 L109.8 66.0 L109.8 59.1 L164.8 59.1 L164.8 64.9 L191.8 64.9 L191.8 61.6 L312.8 61.6 L312.8 76.3 L281.8 76.3 L281.8 79.8 L247.1 79.8 L247.1 76.3 L233.3 76.3 L233.3 71.7 L212.8 71.7 L212.8 75.2 L171.4 75.2 L171.4 71.7 L157.8 71.7 L157.8 68.3 L104.8 68.3 L104.8 72.9 L84.2 72.9 L84.2 77.5 L29.2 77.5 L29.2 79.8 L-95.2 79.0 L-128.2 82.4 L-195.2 82.4 L-195.2 75.6 L-221.2 75.6 L-221.2 73.4 L-252.2 73.4 L-252.2 76.6 L-313.2 76.6Z" fill="#e7c0b3"/>
<path d="M-313.2 12.5 L-183.5 12.5 L-183.5 18.4 L-158.3 18.4 L-158.3 26.4 L-141.9 26.4 L-125.2 34.6 L-125.2 72.2 L-157.6 72.2 L-157.6 75.6 L-184.7 75.6 L-184.7 65.6 L-216.2 65.6 L-216.2 62.1 L-252.2 62.1 L-252.2 65.6 L-282.2 65.6 L-282.2 67.6 L-313.2 67.6Z" fill="#d99479"/>
<path d="M-61.7 5.0 L-0.2 5.0 L-0.2 70.4 L-100.3 70.4 L-100.3 22.9 L-61.7 22.9Z" fill="#e6bfb2"/>
<path d="M-170.2 -52.9 L-112.2 -52.9 L-112.2 -46.1 L-104.2 -46.1 L-104.2 -20.2 L-141.9 -18.7 L-159.8 -27.6 L-170.2 -39.5Z" fill="#e3b7a8"/>
<path d="M-5.2 -87.0 L75.1 -87.0 L75.1 -55.8 L-5.2 -55.8Z" fill="#b5cbd6"/>
<path d="M-5.2 -143.5 L36.4 -143.5 L36.4 -122.7 L-5.2 -122.7Z" fill="#e0b0a0"/>
<path d="M72.1 -42.4 L113.7 -43.9 L122.7 -42.4 L125.6 -36.5 L134.6 -15.6 L84.0 -12.7 L73.6 -0.8Z" fill="#a3c3d2"/>
<path d="M69.1 11.1 L75.1 -0.8 L84.0 -12.7 L134.6 -15.6 L140.5 -15.6 L140.5 -30.5 L155.4 -32.0 L161.3 -27.5 L167.3 -6.7 L185.1 14.1 L202.9 15.6 L216.3 17.1 L217.8 26.0 L208.9 29.0 L164.3 29.0 L164.3 21.5 L73.6 21.5Z" fill="#7aaecb"/>
<path d="M185.1 13.5 L220.8 15.6 L220.8 20.6 L202.9 23.0 L200.0 34.9 L197.9 52.7 L202.9 56.3 L244.6 54.2 L247.5 63.1 L200.0 64.6 L194.6 63.1 L194.0 34.9 L191.0 23.0Z" fill="#c9603f"/>
<path d="M248.1 -60.8 L314.4 -60.8 L314.4 26.6 L280.3 26.6 L262.4 11.1 L250.5 5.2 L232.7 2.2 L220.8 -15.6 L220.8 -33.5 L229.7 -40.9 L238.6 -51.3Z" fill="#b9ccd6"/>
<path d="M250.5 3.7 L280.3 5.2 L292.1 23.0 L314.4 26.0 L314.4 75.0 L256.5 75.0 L262.4 52.7 L262.4 23.0Z" fill="#e3b4a4"/>
<path d="M292.1 26.6 L314.4 26.6 L314.4 61.7 L304.0 61.7 L304.0 49.8 L292.1 40.8Z" fill="#d88d74"/>
<path d="M182.1 -39.4 L208.9 -39.4 L214.8 -21.6 L208.9 -9.7 L188.1 -9.7 L182.1 -21.6Z" fill="#dba898"/>
<path d="M253.5 -91.5 L314.4 -91.5 L314.4 -77.5 L253.5 -75.7Z" fill="#e6c0b3"/>
<path d="M-5.2 17.1 L15.6 17.1 L17.1 46.8 L24.5 58.7 L24.5 64.6 L-5.2 64.6Z" fill="#e6bfb2"/>
<path d="M-315.2 -92.7 L-306.7 -92.7 L-306.7 -78.0 L-315.2 -78.0Z" fill="#e6c4ba"/>
<path d="M-107.6 -111.5 L-88.1 -111.5 L-88.1 -118.4 L-51.3 -118.4 L-42.1 -117.3 L-42.1 -101.2 L-20.2 -101.2 L-20.2 -85.1 L-9.9 -78.2 L-16.8 -77.0 L-75.4 -77.0 L-75.4 -87.4 L-85.8 -87.4 L-85.8 -95.4 L-90.4 -95.4 L-90.4 -103.5 L-101.9 -105.8 L-107.6 -105.8Z" fill="#e4b9aa"/>
<path d="M-104.2 -89.7 L-76.6 -89.7 L-76.6 -69.0 L-92.7 -69.0 L-115.7 -63.2 L-134.1 -52.9 L-139.8 -57.5 L-121.4 -78.2Z" fill="#e4b9aa"/>
<path d="M-35.2 -140.3 L1.6 -140.3 L1.6 -116.1 L-35.2 -116.1Z" fill="#e4b9aa"/>
<path d="M-106.3 -110.8 L-76.6 -113.8 L-40.9 -116.8 L-23.1 -125.7 L-11.2 -137.6 L-0.2 -139.1 L-0.2 -122.7 L-106.3 -98.9Z" fill="#e4b9aa"/>
<path d="M-75.4 -77.0 L-16.8 -77.0 L-16.8 -59.8 L-22.5 -52.9 L-35.2 -46.0 L-61.6 -46.0 L-61.6 -55.2 L-49.0 -55.2 L-49.0 -59.8 L-55.9 -69.0 L-75.4 -70.1Z" fill="#a2c1cf"/>
<path d="M-104.2 -44.8 L-35.2 -44.8 L-35.2 -20.7 L-72.0 -20.7 L-72.0 -18.4 L-104.2 -18.4Z" fill="#b7cdd6"/>
<use href="#land" fill="#d3d3d3"/>
<use href="#casp" fill="#fff"/>
<use href="#chan" fill="none" stroke="#fff" stroke-width="1.2"/>
<path d="M-209.1 -160.0V160.0 M-104.5 -160.0V160.0 M0.0 -160.0V160.0 M104.5 -160.0V160.0 M209.1 -160.0V160.0 M-330.0 -105.5H330.0 M-330.0 -52.7H330.0 M-330.0 0.0H330.0 M-330.0 52.7H330.0 M-330.0 105.5H330.0" stroke="#929292" stroke-width="1.2" stroke-dasharray="5.5 3.6" fill="none"/>
</g>
<rect x="-313.00" y="-149.40" width="626.60" height="298.55" fill="none" stroke="#000" stroke-width="2.5"/>
</g>
<text class="pl" x="11.4" y="357.8" font-size="29">B</text>
<text class="ttl" x="62.6" y="359.8" font-size="34.5">IOD</text>
<g transform="translate(320.2 847.5)">
<g clip-path="url(#clC)">
<rect x="-313.00" y="-148.90" width="626.60" height="297.80" fill="url(#hC)"/>
<use href="#land" fill="none" stroke="#fff" stroke-width="3" stroke-linejoin="round"/>
<path d="M-313.7 -18.8 L-306.8 -18.8 L-306.8 25.7 L-313.7 25.7Z" fill="#bccfd8"/>
<path d="M-76.6 -76.8 L-17.1 -76.8 L-17.1 -45.6 L-33.5 -45.6 L-33.5 -20.3 L-103.3 -20.3 L-104.8 -30.7 L-130.0 -41.1 L-134.5 -45.6 L-76.6 -69.3Z" fill="#e0aa98"/>
<path d="M-136.0 -57.4 L-130.0 -66.4 L-112.2 -69.3 L-55.8 -69.3 L-52.8 -66.4 L-48.3 -57.4 L-58.7 -53.0 L-61.7 -47.1 L-130.0 -45.6Z" fill="#8fb5c8"/>
<path d="M-58.7 4.9 L-51.3 4.9 L-51.3 16.8 L-0.2 16.8 L-0.2 68.8 L-97.4 68.8 L-94.4 52.5 L-82.5 37.6 L-70.6 28.7 L-64.7 19.8 L-58.7 10.9Z" fill="#bccfd8"/>
<path d="M68.5 9.5 L72.7 -0.9 L78.7 -15.7 L76.6 -21.7 L92.9 -27.6 L100.4 -36.6 L105.4 -44.9 L113.7 -43.1 L125.6 -27.6 L105.4 -24.7 L92.9 -15.7 L84.0 -0.9 L75.1 11.0Z" fill="#e0ad9d"/>
<path d="M208.9 -51.4 L220.8 -57.4 L226.7 -66.3 L232.7 -72.2 L247.5 -75.2 L271.3 -75.2 L271.3 -63.3 L247.5 -61.8 L232.7 -60.3 L223.8 -45.5 L223.8 -18.7 L214.8 -18.7 L211.9 -30.6 L208.9 -42.5Z" fill="#e3b8aa"/>
<path d="M223.8 -21.7 L314.4 -21.7 L314.4 25.9 L292.1 25.9 L280.3 11.0 L262.4 5.1 L250.5 2.1 L238.6 -3.9 L229.7 -12.8 L223.8 -15.7Z" fill="#bcced8"/>
<path d="M-5.2 17.0 L26.0 17.0 L26.0 67.5 L-5.2 67.5Z" fill="#bcced8"/>
<path d="M262.4 28.9 L272.8 28.9 L272.8 58.6 L262.4 58.6Z" fill="#bccfd8"/>
<use href="#land" fill="#d3d3d3"/>
<use href="#casp" fill="#fff"/>
<use href="#chan" fill="none" stroke="#fff" stroke-width="1.2"/>
<path d="M-209.1 -160.0V160.0 M-104.5 -160.0V160.0 M0.0 -160.0V160.0 M104.5 -160.0V160.0 M209.1 -160.0V160.0 M-330.0 -105.5H330.0 M-330.0 -52.7H330.0 M-330.0 0.0H330.0 M-330.0 52.7H330.0 M-330.0 105.5H330.0" stroke="#929292" stroke-width="1.2" stroke-dasharray="5.5 3.6" fill="none"/>
</g>
<rect x="-313.00" y="-148.90" width="626.60" height="297.80" fill="none" stroke="#000" stroke-width="2.5"/>
</g>
<text class="pl" x="11.0" y="692.8" font-size="29">C</text>
<text class="ttl" x="65.0" y="694.8" font-size="34.5">NAO</text>
<g transform="translate(1009.7 178.6)">
<g clip-path="url(#clD)">
<rect x="-312.90" y="-148.20" width="627.70" height="297.95" fill="url(#hD)"/>
<use href="#land" fill="none" stroke="#fff" stroke-width="3" stroke-linejoin="round"/>
<path d="M-314.2 -147.1 L-0.7 -147.1 L-0.7 -115.0 L-39.6 -115.0 L-39.6 -97.1 L-74.1 -97.1 L-74.1 -85.3 L-106.8 -85.3 L-112.7 -109.0 L-142.4 -109.0 L-172.1 -115.0 L-231.6 -116.5 L-279.1 -116.5 L-279.1 -91.2 L-314.2 -89.7Z" fill="#d5806a"/>
<path d="M-314.2 -147.1 L-191.5 -147.1 L-191.5 -140.2 L-314.2 -140.2Z" fill="#dc9c8c"/>
<path d="M-314.2 -117.9 L-279.1 -117.9 L-273.2 -103.1 L-261.3 -97.1 L-276.1 -92.7 L-314.2 -89.7Z" fill="#cf6d50"/>
<path d="M-307.3 -101.6 L-246.4 -101.6 L-234.5 -91.2 L-231.6 -79.3 L-307.3 -79.3Z" fill="#dc9d8a"/>
<path d="M-314.2 -79.3 L-231.6 -79.3 L-222.6 -64.5 L-222.6 -59.1 L-314.2 -59.1Z" fill="#a5c2cf"/>
<path d="M-314.2 -60.0 L-222.6 -60.0 L-228.6 -79.3 L-234.5 -87.6 L-225.6 -87.6 L-218.2 -76.3 L-207.8 -55.5 L-195.9 -34.8 L-192.9 -36.2 L-198.9 -28.8 L-204.8 -25.8 L-207.8 -17.5 L-314.2 -17.5Z" fill="#1f62c2"/>
<path d="M-314.2 -18.4 L-207.8 -18.4 L-201.9 -25.8 L-195.9 -34.8 L-190.0 -36.2 L-181.1 -28.8 L-160.3 -22.9 L-148.4 -16.9 L-136.5 -14.0 L-135.0 -6.5 L-314.2 -6.5Z" fill="#2a3a9c"/>
<path d="M-314.2 -6.5 L-135.0 -6.5 L-142.4 6.8 L-145.4 18.7 L-139.5 24.7 L-138.9 28.2 L-157.9 28.2 L-157.9 20.2 L-183.4 20.2 L-183.4 12.8 L-307.3 12.8 L-307.3 27.6 L-314.2 27.6Z" fill="#2058c0"/>
<path d="M-307.3 12.8 L-183.4 12.8 L-183.4 20.2 L-157.9 20.2 L-157.9 28.2 L-138.9 28.2 L-130.5 36.6 L-123.1 54.4 L-123.1 99.0 L-136.5 99.0 L-139.5 78.2 L-160.3 78.2 L-192.9 67.8 L-222.6 63.3 L-252.4 66.3 L-307.3 67.8Z" fill="#bccfd9"/>
<path d="M-314.2 77.6 L-252.4 77.6 L-252.4 73.7 L-222.6 73.7 L-222.6 77.6 L-192.9 77.6 L-192.9 84.1 L-166.2 84.1 L-142.4 81.1 L-138.0 81.1 L-135.0 99.5 L-314.2 100.4Z" fill="#b5301f"/>
<path d="M-88.9 81.1 L-35.5 81.1 L-35.5 76.7 L-0.7 76.7 L-0.7 93.0 L-74.1 93.0 L-77.1 100.4 L-88.9 100.4Z" fill="#b5301f"/>
<path d="M-314.2 118.3 L-130.5 118.3 L-130.5 107.9 L-112.7 104.9 L-68.1 104.9 L-65.2 115.3 L-83.0 119.8 L-83.0 131.6 L-0.7 118.3 L-0.7 143.5 L-314.2 143.5Z" fill="#e3b5a5"/>
<path d="M-170.7 -51.1 L-112.7 -51.1 L-106.8 -31.8 L-106.8 -16.9 L-142.4 -16.9 L-160.3 -25.8 L-170.7 -37.7Z" fill="#c8d8df"/>
<path d="M-74.1 -97.1 L-23.6 -97.1 L-14.7 -88.2 L-14.7 -74.9 L-0.7 -74.9 L-0.7 18.7 L-34.0 18.7 L-34.0 -16.9 L-103.8 -16.9 L-106.8 -28.8 L-130.5 -43.7 L-133.5 -55.5 L-127.6 -64.5 L-100.8 -67.4 L-74.1 -74.9Z" fill="#62a0c8"/>
<path d="M-133.5 -55.5 L-127.6 -64.5 L-100.8 -67.4 L-56.3 -67.4 L-48.8 -61.5 L-48.8 -55.5 L-62.2 -51.1 L-65.2 -45.2 L-133.5 -45.2Z" fill="#1d62c4"/>
<path d="M-103.8 -18.4 L-34.0 -18.4 L-34.0 9.8 L-62.2 9.8 L-74.1 0.9 L-88.9 -8.0Z" fill="#a8c4d0"/>
<path d="M-5.7 -147.7 L313.9 -147.7 L313.9 -106.0 L279.8 -109.0 L250.0 -106.0 L202.4 -120.9 L86.5 -123.9 L86.5 -132.8 L0.2 -132.8 L0.2 -123.9 L-5.7 -123.9Z" fill="#d5806a"/>
<path d="M-5.7 -147.7 L12.1 -147.7 L12.1 -133.4 L-5.7 -133.4Z" fill="#dc9d8b"/>
<path d="M-5.7 -79.3 L74.6 -79.3 L74.6 -54.0 L-5.7 -54.0Z" fill="#86b3cc"/>
<path d="M74.6 -52.5 L125.1 -52.5 L125.1 -19.8 L74.6 -19.8Z" fill="#73a9cb"/>
<path d="M70.1 9.9 L74.6 -19.8 L98.4 -40.6 L113.2 -43.6 L125.1 -34.7 L134.1 -13.8 L140.0 -13.8 L141.5 -28.7 L154.9 -31.7 L163.8 -25.7 L166.8 -13.8 L178.7 1.0 L184.6 15.9 L217.3 18.9 L217.3 27.8 L163.8 27.8 L163.8 20.3 L74.6 20.3Z" fill="#4390c5"/>
<path d="M12.1 20.3 L163.8 20.3 L163.8 27.8 L190.5 27.8 L192.0 66.4 L53.8 66.4 L30.0 62.0 L24.0 54.5 L18.1 36.7 L12.1 27.8Z" fill="#9cbfcf"/>
<path d="M166.8 -40.6 L220.3 -40.6 L226.2 -13.8 L250.0 4.0 L261.9 7.0 L291.6 15.9 L303.5 30.8 L303.5 72.4 L256.0 78.3 L256.0 30.8 L220.3 30.8 L178.7 12.9 L169.7 -4.9Z" fill="#4a92c6"/>
<path d="M211.4 -73.3 L313.9 -73.3 L313.9 -59.0 L248.5 -59.0 L238.1 -54.9 L228.0 -50.7 L219.1 -30.5 L212.8 -30.5 L211.4 -55.5Z" fill="#a2c3d2"/>
<path d="M248.5 -60.2 L313.9 -60.2 L313.9 -18.3 L223.3 -18.3 L219.1 -31.7 L228.0 -51.3 L238.1 -55.5Z" fill="#1f6dc0"/>
<path d="M220.3 -19.8 L313.9 -19.8 L313.9 27.8 L303.5 27.8 L291.6 15.9 L279.8 12.9 L261.9 7.0 L250.0 4.0 L241.1 -4.9 L229.2 -10.9 L220.3 -13.8Z" fill="#2c3fa0"/>
<path d="M226.2 -64.4 L232.2 -79.3 L241.1 -94.1 L250.0 -106.0 L279.8 -109.0 L291.6 -103.1 L313.9 -109.0 L313.9 -91.2 L270.8 -85.2 L253.0 -76.3 L241.1 -64.4Z" fill="#cf6b4c"/>
<path d="M253.0 -92.6 L313.9 -92.6 L313.9 -74.8 L253.0 -73.9Z" fill="#dca08f"/>
<path d="M189.1 24.8 L220.3 24.8 L220.3 29.3 L202.4 30.8 L199.5 51.6 L202.4 58.1 L250.0 56.0 L253.0 66.4 L199.5 67.0 L194.1 65.8 L193.5 36.7Z" fill="#1f6dc0"/>
<path d="M-5.7 81.3 L27.0 81.3 L27.0 76.8 L83.5 76.8 L83.5 72.4 L160.8 72.4 L172.7 76.8 L250.0 76.8 L267.9 79.8 L291.6 76.8 L303.5 76.8 L309.5 84.3 L313.9 84.3 L313.9 100.6 L288.7 100.6 L288.7 93.2 L-5.7 93.8Z" fill="#b53020"/>
<path d="M-5.7 115.5 L53.8 114.0 L119.2 112.5 L208.4 114.0 L261.9 115.5 L291.6 118.5 L309.5 121.4 L313.9 122.9 L313.9 143.7 L-5.7 143.7Z" fill="#e3b5a5"/>
<path d="M-167.7 -123.9 L-111.2 -123.9 L-111.2 -94.2 L-127.6 -89.7 L-167.7 -89.7Z" fill="#d5806a"/>
<path d="M-149.7 -137.5 L-90.4 -137.5 L-90.4 -109.3 L-107.4 -109.3 L-107.4 -88.1 L-149.7 -88.1Z" fill="#d5785d"/>
<path d="M-107.4 -112.1 L-70.7 -114.9 L-50.9 -117.7 L-39.6 -123.4 L-34.0 -129.0 L-22.7 -137.5 L39.4 -138.9 L39.4 -131.8 L-0.1 -124.8 L-0.1 -114.9 L-39.6 -114.9 L-39.6 -98.0 L-74.9 -98.0 L-74.9 -88.1 L-87.6 -88.1 L-90.4 -92.3 L-98.9 -96.6 L-107.4 -103.6Z" fill="#dc9a86"/>
<path d="M-74.9 -98.0 L-39.6 -98.0 L-39.6 -100.1 L-19.8 -100.1 L-19.8 -88.1 L-8.6 -83.9 L-5.7 -78.2 L-15.6 -75.4 L-15.6 -61.3 L-22.7 -52.8 L-26.9 -31.6 L-134.2 -31.6 L-134.2 -54.2 L-121.5 -64.1 L-98.9 -68.3 L-74.9 -75.4Z" fill="#62a0c8"/>
<path d="M-134.2 -54.2 L-121.5 -64.1 L-98.9 -68.3 L-55.1 -68.3 L-55.1 -61.3 L-48.1 -59.9 L-48.1 -55.6 L-62.2 -54.2 L-62.2 -50.0 L-69.2 -47.2 L-69.2 -45.0 L-134.2 -45.0Z" fill="#1d64c4"/>
<path d="M-134.2 -45.0 L-28.3 -45.0 L-28.3 -31.6 L-134.2 -31.6Z" fill="#7fb0cc"/>
<use href="#land" fill="#d3d3d3"/>
<use href="#casp" fill="#fff"/>
<use href="#chan" fill="none" stroke="#fff" stroke-width="1.2"/>
<path d="M-209.1 -160.0V160.0 M-104.5 -160.0V160.0 M0.0 -160.0V160.0 M104.5 -160.0V160.0 M209.1 -160.0V160.0 M-330.0 -105.5H330.0 M-330.0 -52.7H330.0 M-330.0 0.0H330.0 M-330.0 52.7H330.0 M-330.0 105.5H330.0" stroke="#929292" stroke-width="1.2" stroke-dasharray="5.5 3.6" fill="none"/>
</g>
<rect x="-312.90" y="-148.20" width="627.70" height="297.95" fill="none" stroke="#000" stroke-width="2.5"/>
</g>
<text class="pl" x="708.2" y="23.8" font-size="29">D</text>
<text class="ttl" x="755.0" y="26.4" font-size="34.5">SST</text>
<g transform="translate(1009.7 513.4)">
<g clip-path="url(#clE)">
<rect x="-312.90" y="-149.30" width="627.70" height="298.40" fill="url(#hE)"/>
<use href="#land" fill="none" stroke="#fff" stroke-width="3" stroke-linejoin="round"/>
<path d="M-314.2 -148.9 L-0.7 -148.9 L-0.7 -113.8 L-74.1 -113.8 L-106.8 -110.8 L-112.7 -110.8 L-142.4 -110.8 L-172.1 -116.8 L-231.6 -118.3 L-279.1 -118.3 L-279.1 -93.0 L-314.2 -91.5Z" fill="#dfae9f"/>
<path d="M-314.2 -61.8 L-307.3 -61.8 L-307.3 -19.3 L-314.2 -19.3Z" fill="#e2b3a4"/>
<path d="M-307.3 -100.4 L-270.2 -100.4 L-264.2 -103.4 L-246.4 -101.9 L-237.5 -96.0 L-231.6 -88.5 L-222.6 -84.1 L-216.7 -69.2 L-207.8 -57.3 L-201.9 -45.5 L-195.9 -36.6 L-201.9 -30.6 L-207.8 -30.6 L-216.7 -60.3 L-225.6 -66.3 L-231.6 -81.1 L-307.3 -81.1Z" fill="#aac5d1"/>
<path d="M-307.3 -60.9 L-219.7 -60.9 L-213.7 -48.4 L-207.8 -36.6 L-198.9 -30.6 L-201.9 -24.7 L-207.8 -19.3 L-307.3 -19.3Z" fill="#cc5a3a"/>
<path d="M-314.2 -19.3 L-207.8 -19.3 L-201.9 -24.7 L-195.9 -33.6 L-190.0 -38.0 L-181.1 -30.6 L-160.3 -24.7 L-142.4 -15.8 L-138.0 -8.3 L-160.3 -2.4 L-307.3 -8.3 L-307.3 25.8 L-314.2 25.8Z" fill="#8c1525"/>
<path d="M-314.2 68.9 L-252.4 66.0 L-222.6 64.5 L-195.9 66.0 L-192.9 71.9 L-166.2 73.4 L-142.4 66.8 L-138.9 66.0 L-138.9 82.3 L-166.2 83.8 L-192.9 82.3 L-222.6 79.3 L-252.4 77.8 L-314.2 77.8Z" fill="#4a94c7"/>
<path d="M-314.2 76.4 L-0.7 76.4 L-0.7 119.4 L-314.2 119.4Z" fill="#90b8cc"/>
<path d="M-118.7 71.9 L-88.9 71.9 L-88.9 97.2 L-118.7 97.2Z" fill="#4a94c7"/>
<path d="M-88.9 66.0 L-0.7 64.5 L-0.7 79.3 L-88.9 79.3Z" fill="#4a94c7"/>
<path d="M-314.2 118.0 L-130.5 118.0 L-130.5 106.1 L-112.7 103.1 L-65.2 103.1 L-65.2 118.0 L-0.7 118.0 L-0.7 141.7 L-314.2 141.7Z" fill="#cc6a4c"/>
<path d="M-142.4 -96.0 L-106.8 -96.0 L-106.8 -69.2 L-130.5 -60.3 L-139.5 -51.4 L-145.4 -51.4Z" fill="#e0b0a0"/>
<path d="M-103.8 -45.5 L-34.0 -45.5 L-34.0 -21.7 L-103.8 -21.7Z" fill="#e8c8bc"/>
<path d="M-59.2 5.0 L-51.8 5.0 L-51.8 16.9 L-0.7 16.9 L-0.7 70.4 L-97.9 70.4 L-94.9 52.6 L-83.0 37.7 L-71.1 28.8 L-65.2 19.9 L-59.2 11.0Z" fill="#bccfd8"/>
<path d="M-5.7 -149.5 L313.9 -149.5 L313.9 -107.8 L279.8 -110.8 L250.0 -107.8 L202.4 -122.7 L86.5 -125.7 L86.5 -134.6 L0.2 -134.6 L0.2 -116.7 L-5.7 -116.7Z" fill="#dfae9f"/>
<path d="M-5.7 -81.1 L74.6 -81.1 L74.6 -55.8 L-5.7 -55.8Z" fill="#3f8dc4"/>
<path d="M74.6 -54.3 L125.1 -54.3 L125.1 -21.6 L140.0 -21.6 L141.5 -39.4 L160.8 -39.4 L166.8 -15.6 L74.6 -15.6Z" fill="#dca08f"/>
<path d="M70.1 8.1 L74.6 -21.6 L98.4 -24.6 L125.1 -24.6 L134.1 -15.6 L140.0 -15.6 L141.5 -30.5 L154.9 -33.5 L163.8 -27.5 L166.8 -15.6 L178.7 -0.8 L184.6 14.1 L217.3 17.1 L217.3 26.0 L163.8 26.0 L163.8 18.5 L74.6 18.5Z" fill="#cd6040"/>
<path d="M89.5 17.1 L163.8 17.1 L163.8 26.0 L202.4 26.0 L202.4 64.6 L53.8 64.6 L89.5 52.7Z" fill="#d98a72"/>
<path d="M248.5 -62.0 L313.9 -62.0 L313.9 -20.1 L223.3 -20.1 L219.1 -33.5 L228.0 -53.1 L238.1 -57.3Z" fill="#dca08f"/>
<path d="M220.3 -21.6 L313.9 -21.6 L313.9 26.0 L303.5 26.0 L291.6 14.1 L279.8 11.1 L261.9 5.2 L250.0 2.2 L241.1 -6.7 L229.2 -12.7 L220.3 -15.6Z" fill="#9b1a2c"/>
<path d="M166.8 -42.4 L220.3 -42.4 L226.2 -15.6 L250.0 2.2 L256.0 6.7 L256.0 29.0 L220.3 29.0 L178.7 11.1 L169.7 -6.7Z" fill="#e3b8aa"/>
<path d="M250.8 1.5 L264.2 5.5 L277.6 10.9 L285.7 16.2 L291.1 20.3 L295.1 25.6 L295.1 41.7 L304.5 44.4 L304.5 57.8 L273.6 57.8 L273.6 45.8 L269.6 29.7 L256.2 24.3Z" fill="#e6bcad"/>
<path d="M241.1 -107.8 L279.8 -110.8 L313.9 -107.8 L313.9 -93.0 L270.8 -87.0 L253.0 -78.1 L241.1 -72.1Z" fill="#dca08f"/>
<path d="M189.1 23.0 L220.3 23.0 L220.3 27.5 L202.4 29.0 L199.5 49.8 L202.4 56.3 L250.0 54.2 L253.0 64.6 L199.5 65.2 L194.1 64.0 L193.5 34.9Z" fill="#cd6040"/>
<path d="M253.0 23.0 L275.3 23.0 L275.3 66.1 L253.0 66.1Z" fill="#4a94c7"/>
<path d="M-5.7 70.6 L27.0 70.6 L27.0 66.1 L95.4 64.6 L107.3 58.7 L160.8 58.7 L172.7 66.1 L250.0 66.1 L267.9 70.6 L313.9 70.6 L313.9 79.5 L-5.7 79.5Z" fill="#4a94c7"/>
<path d="M-5.7 78.0 L313.9 78.0 L313.9 113.7 L-5.7 113.7Z" fill="#90b8cc"/>
<path d="M-5.7 113.7 L53.8 112.2 L119.2 110.7 L208.4 112.2 L261.9 113.7 L291.6 116.7 L309.5 119.6 L313.9 121.1 L313.9 141.9 L-5.7 141.9Z" fill="#cd6a4c"/>
<path d="M-167.7 -125.7 L-111.2 -125.7 L-111.2 -96.0 L-127.6 -91.5 L-167.7 -91.5Z" fill="#e6b3a4"/>
<path d="M-149.7 -139.3 L-90.4 -139.3 L-90.4 -111.8 L-107.4 -111.8 L-107.4 -89.9 L-74.9 -88.5 L-74.9 -77.2 L-104.5 -74.4 L-121.5 -68.7 L-141.2 -54.6 L-149.7 -54.6Z" fill="#e3b2a3"/>
<path d="M-107.4 -111.8 L-90.4 -111.8 L-90.4 -106.8 L-73.5 -106.8 L-70.7 -111.1 L-62.2 -113.9 L-50.9 -118.1 L-42.4 -120.9 L-32.6 -125.2 L-25.5 -132.2 L-22.7 -136.5 L-8.6 -140.0 L39.4 -140.0 L39.4 -132.2 L5.6 -125.9 L-0.1 -125.2 L-0.1 -115.3 L-39.6 -112.5 L-39.6 -98.4 L-74.9 -98.4 L-74.9 -88.5 L-87.6 -88.5 L-90.4 -94.1 L-97.5 -99.8 L-105.9 -105.4Z" fill="#a8c4d0"/>
<path d="M-74.9 -98.4 L-39.6 -98.4 L-39.6 -101.2 L-18.4 -101.2 L-18.4 -94.1 L-8.6 -87.1 L-7.1 -80.0 L-14.2 -77.2 L-74.9 -77.2Z" fill="#3d8cc3"/>
<path d="M-152.7 -5.4 L-137.7 -3.4 L-129.7 16.6 L-122.7 41.6 L-123.7 76.6 L-123.7 98.6 L-136.7 98.6 L-137.7 56.6 L-142.7 31.6 L-149.7 14.6Z" fill="#c4d3da"/>
<use href="#land" fill="#d3d3d3"/>
<use href="#casp" fill="#fff"/>
<use href="#chan" fill="none" stroke="#fff" stroke-width="1.2"/>
<path d="M-209.1 -160.0V160.0 M-104.5 -160.0V160.0 M0.0 -160.0V160.0 M104.5 -160.0V160.0 M209.1 -160.0V160.0 M-330.0 -105.5H330.0 M-330.0 -52.7H330.0 M-330.0 0.0H330.0 M-330.0 52.7H330.0 M-330.0 105.5H330.0" stroke="#929292" stroke-width="1.2" stroke-dasharray="5.5 3.6" fill="none"/>
</g>
<rect x="-312.90" y="-149.30" width="627.70" height="298.40" fill="none" stroke="#000" stroke-width="2.5"/>
</g>
<text class="pl" x="708.4" y="357.8" font-size="29">E</text>
<text class="ttl" x="751.5" y="359.8" font-size="34.5">SSS</text>
<text class="lab" x="650.2" y="749.8" font-size="34.5">60°N</text><text class="lab" x="650.2" y="802.1" font-size="34.5">30°N</text><text class="lab" x="650.2" y="854.4" font-size="34.5">0°</text><text class="lab" x="650.2" y="906.7" font-size="34.5">30°S</text><text class="lab" x="650.2" y="959.0" font-size="34.5">60°S</text>
<text class="lab" x="1340.5" y="82.2" font-size="34.5">60°N</text><text class="lab" x="1340.5" y="134.5" font-size="34.5">30°N</text><text class="lab" x="1340.5" y="186.8" font-size="34.5">0°</text><text class="lab" x="1340.5" y="239.1" font-size="34.5">30°S</text><text class="lab" x="1340.5" y="291.4" font-size="34.5">60°S</text>
<text class="lab" x="1340.5" y="416.2" font-size="34.5">60°N</text><text class="lab" x="1340.5" y="468.5" font-size="34.5">30°N</text><text class="lab" x="1340.5" y="520.8" font-size="34.5">0°</text><text class="lab" x="1340.5" y="573.1" font-size="34.5">30°S</text><text class="lab" x="1340.5" y="625.4" font-size="34.5">60°S</text>
<text class="lab" x="111.1" y="1037" font-size="34" text-anchor="middle">120°W</text><text class="lab" x="215.6" y="1037" font-size="34" text-anchor="middle">60°W</text><text class="lab" x="320.2" y="1037" font-size="34" text-anchor="middle">0°</text><text class="lab" x="424.8" y="1037" font-size="34" text-anchor="middle">60°E</text><text class="lab" x="529.3" y="1037" font-size="34" text-anchor="middle">120°E</text>
<text class="lab" x="800.6" y="703" font-size="34" text-anchor="middle">120°W</text><text class="lab" x="905.2" y="703" font-size="34" text-anchor="middle">60°W</text><text class="lab" x="1009.7" y="703" font-size="34" text-anchor="middle">0°</text><text class="lab" x="1114.2" y="703" font-size="34" text-anchor="middle">60°E</text><text class="lab" x="1218.8" y="703" font-size="34" text-anchor="middle">120°E</text>
<rect x="785.10" y="858.4" width="59.67" height="25" fill="#1b1f42"/>
<rect x="844.47" y="858.4" width="59.67" height="25" fill="#2a44a8"/>
<rect x="903.83" y="858.4" width="59.67" height="25" fill="#3587c0"/>
<rect x="963.20" y="858.4" width="59.67" height="25" fill="#97bbc8"/>
<rect x="1022.57" y="858.4" width="59.67" height="25" fill="#f0ebe9"/>
<rect x="1081.93" y="858.4" width="59.67" height="25" fill="#d9a595"/>
<rect x="1141.30" y="858.4" width="59.67" height="25" fill="#c15d3e"/>
<rect x="1200.67" y="858.4" width="59.67" height="25" fill="#921229"/>
<rect x="1260.03" y="858.4" width="59.67" height="25" fill="#3f0a13"/>
<rect x="785.1" y="858.4" width="534.30" height="25" fill="none" stroke="#000" stroke-width="2.3"/>
<path d="M785.10 883V896.3" stroke="#000" stroke-width="2.1"/>
<text class="ttl" x="785.10" y="926.6" font-size="27.5" text-anchor="middle">−1.0</text>
<path d="M844.47 883V896.3" stroke="#000" stroke-width="2.1"/>
<text class="ttl" x="844.47" y="926.6" font-size="27.5" text-anchor="middle">−0.8</text>
<path d="M903.83 883V896.3" stroke="#000" stroke-width="2.1"/>
<text class="ttl" x="903.83" y="926.6" font-size="27.5" text-anchor="middle">−0.6</text>
<path d="M963.20 883V896.3" stroke="#000" stroke-width="2.1"/>
<text class="ttl" x="963.20" y="926.6" font-size="27.5" text-anchor="middle">−0.4</text>
<path d="M1022.57 883V896.3" stroke="#000" stroke-width="2.1"/>
<text class="ttl" x="1022.57" y="926.6" font-size="27.5" text-anchor="middle">−0.2</text>
<path d="M1081.93 883V896.3" stroke="#000" stroke-width="2.1"/>
<text class="ttl" x="1081.93" y="926.6" font-size="27.5" text-anchor="middle">0.2</text>
<path d="M1141.30 883V896.3" stroke="#000" stroke-width="2.1"/>
<text class="ttl" x="1141.30" y="926.6" font-size="27.5" text-anchor="middle">0.4</text>
<path d="M1200.67 883V896.3" stroke="#000" stroke-width="2.1"/>
<text class="ttl" x="1200.67" y="926.6" font-size="27.5" text-anchor="middle">0.6</text>
<path d="M1260.03 883V896.3" stroke="#000" stroke-width="2.1"/>
<text class="ttl" x="1260.03" y="926.6" font-size="27.5" text-anchor="middle">0.8</text>
<path d="M1319.40 883V896.3" stroke="#000" stroke-width="2.1"/>
<text class="ttl" x="1319.40" y="926.6" font-size="27.5" text-anchor="middle">1.0</text>
<text class="ttl" x="1053" y="968.5" font-size="27.9" text-anchor="middle">Spearman correlation coefficient (<tspan font-style="italic">r</tspan>)</text>
</svg></body></html>
